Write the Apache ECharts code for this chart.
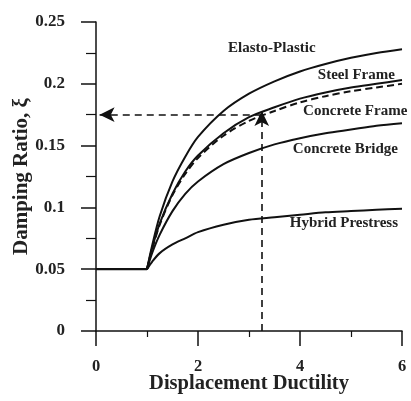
<!DOCTYPE html>
<html><head><meta charset="utf-8">
<script src="https://cdn.jsdelivr.net/npm/echarts@6/dist/echarts.min.js"></script>
<style>html,body{margin:0;padding:0;background:#fff}#c{width:411px;height:401px}</style>
</head><body><div id="c"></div>
<script>
const elasticX = [0,1];
const elasticY = [0.05,0.05];
const ductility = [1,1.1,1.25,1.5,1.75,2,2.5,3,3.5,4,4.5,5,5.5,6];
const elastoPlastic   = [0.05,0.069,0.093,0.121,0.141,0.157,0.178,0.192,0.202,0.210,0.216,0.221,0.225,0.228];
const steelFrame      = [0.05,0.067,0.087,0.111,0.129,0.142,0.160,0.173,0.181,0.188,0.193,0.197,0.200,0.203];
const concreteFrame   = [0.05,0.066,0.086,0.110,0.127,0.140,0.158,0.170,0.178,0.185,0.190,0.194,0.197,0.200];
const concreteBridge  = [0.05,0.063,0.078,0.097,0.111,0.121,0.135,0.144,0.151,0.156,0.160,0.163,0.166,0.168];
const hybridPrestress = [0.05,0.056,0.063,0.070,0.075,0.080,0.086,0.090,0.092,0.094,0.096,0.097,0.098,0.099];
const xTicks = [0,2,4,6];
const yTicks = [0,0.05,0.1,0.15,0.2,0.25];
const names = ['Elasto-Plastic','Steel Frame','Concrete Frame','Concrete Bridge','Hybrid Prestress'];
const labelPos = [[2.59,0.229],[4.35,0.207],[4.06,0.178],[3.86,0.147],[3.80,0.0875]];
const designDuctility = 3.25, designDamping = 0.175;

const FONT = 'Liberation Serif';
const all = [elastoPlastic, steelFrame, concreteFrame, concreteBridge, hybridPrestress];
const series = all.map((arr,k)=>({
  type:'line', name:names[k], data:ductility.map((x,i)=>[x,arr[i]]), showSymbol:false, symbol:'none',
  smooth:0.3,
  lineStyle:{color:'#111', width:2, type: k===2 ? [7,4] : 'solid'},
  z: k===2 ? 3 : 2,
  markPoint:{
    symbol:'circle', symbolSize:0, silent:true,
    data:[{coord:labelPos[k]}],
    label:{show:true, position:'right', distance:0, formatter:names[k],
      fontFamily:FONT, fontWeight:'bold', fontSize:15, color:'#222'}
  }
}));
series.push({
  type:'line', data:elasticX.map((x,i)=>[x,elasticY[i]]), showSymbol:false, symbol:'none',
  lineStyle:{color:'#111', width:2.2}
});
series.push({
  type:'line', data:[], silent:true,
  markLine:{
    silent:true, animation:false,
    label:{show:false},
    lineStyle:{color:'#111', width:1.6, type:[7,5]},
    data:[
      [{coord:[designDuctility,designDamping], symbol:'none'},{coord:[0.07,designDamping], symbol:'arrow', symbolSize:[11,15]}],
      [{coord:[designDuctility,0], symbol:'none'},{coord:[designDuctility,0.178], symbol:'arrow', symbolSize:[11,15]}]
    ]
  }
});

const chart = echarts.init(document.getElementById('c'));
chart.setOption({
  backgroundColor:'#fff',
  animation:false,
  grid:{left:96, right:9, top:22, bottom:70, containLabel:false, outerBoundsMode:'none'},
  xAxis:{
    type:'value', min:0, max:6, interval:2,
    name:'Displacement Ductility', nameLocation:'middle', nameGap:42, nameMoveOverlap:false,
    nameTextStyle:{fontFamily:FONT, fontWeight:'bold', fontSize:20.5, color:'#222'},
    axisLine:{show:true, onZero:false, lineStyle:{color:'#111', width:1.5}},
    axisTick:{show:true, inside:false, length:15, lineStyle:{color:'#111', width:1.5}},
    minorTick:{show:true, splitNumber:2, length:6, lineStyle:{color:'#111', width:1.2}},
    axisLabel:{margin:27, fontFamily:FONT, fontWeight:'bold', fontSize:16.5, color:'#222',
      formatter:v=> xTicks.includes(v) ? String(v) : ''},
    splitLine:{show:false}
  },
  yAxis:{
    type:'value', min:0, max:0.25, interval:0.05,
    name:'Damping Ratio, ξ', nameLocation:'middle', nameGap:64, nameMoveOverlap:false,
    nameTextStyle:{fontFamily:FONT, fontWeight:'bold', fontSize:21, color:'#222'},
    axisLine:{show:true, onZero:false, lineStyle:{color:'#111', width:1.5}},
    axisTick:{show:true, inside:false, length:15, lineStyle:{color:'#111', width:1.5}},
    minorTick:{show:true, splitNumber:2, length:10, lineStyle:{color:'#111', width:1.2}},
    axisLabel:{margin:31, fontFamily:FONT, fontWeight:'bold', fontSize:17, color:'#222',
      formatter:v=>{ const t = yTicks.find(y=>Math.abs(y-v)<1e-9); return t===undefined?'':String(t); }},
    splitLine:{show:false}
  },
  series
});
</script></body></html>
